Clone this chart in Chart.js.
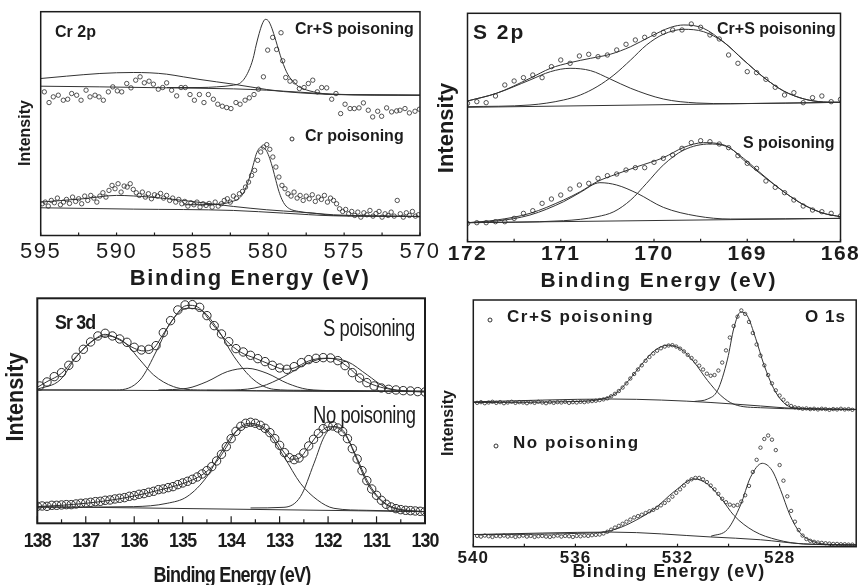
<!DOCTYPE html>
<html>
<head>
<meta charset="utf-8">
<script src="https://cdn.jsdelivr.net/npm/chart.js@4.4.0/dist/chart.umd.min.js"></script>
<style>
  html, body { margin: 0; padding: 0; background: #fff; }
  #wrap { position: relative; width: 861px; height: 585px; overflow: hidden; background: #fff; }
  #wrap canvas { position: absolute; left: 0; top: 0; }
</style>
</head>
<body>
<div id="wrap">
  <canvas id="cr" width="861" height="585"></canvas>
  <canvas id="s" width="861" height="585"></canvas>
  <canvas id="sr" width="861" height="585"></canvas>
  <canvas id="o" width="861" height="585"></canvas>
</div>
<script>
// ---------- Cr 2p (binding energy eV, intensity a.u.) ----------
const CR_TICKS = [595, 590, 585, 580, 575, 570];
const CR_MARKS = [595, 592.5, 590, 587.5, 585, 582.5, 580, 577.5, 575, 572.5, 570];

const CRS_POINTS = [[594.76,430],[594.45,398],[594.17,415],[593.84,420],[593.51,405],[593.22,408],[592.96,425],[592.63,420],[592.34,405],[592.01,435],[591.75,415],[591.42,420],[591.16,415],[590.87,405],[590.54,430],[590.25,445],[589.95,433],[589.66,430],[589.33,455],[589.05,442],[588.74,465],[588.45,475],[588.17,457],[587.86,462],[587.57,453],[587.25,438],[586.96,443],[586.70,457],[586.37,435],[586.04,418],[585.75,443],[585.47,443],[585.16,422],[584.87,405],[584.54,422],[584.24,398],[583.95,422],[583.62,408],[583.33,393],[583.03,387],[582.74,383],[582.46,380],[582.13,398],[581.86,393],[581.53,405],[581.25,412],[580.94,422],[580.65,438],[580.32,475],[580.04,555],[579.71,593],[579.45,557],[579.16,607],[579.05,523],[578.85,473],[578.57,462],[578.24,460],[577.95,440],[577.64,443],[577.36,455],[577.07,465],[576.77,430],[576.48,443],[576.15,442],[575.82,408],[575.54,425],[575.23,365],[574.94,393],[574.61,380],[574.33,380],[574.02,382],[573.73,397],[573.41,375],[573.12,355],[572.79,372],[572.53,357],[572.20,382],[571.87,370],[571.54,373],[571.32,375],[570.99,380],[570.70,367],[570.33,372],[570.04,378]];
const CRS_BASE = [[595,447],[591.1,445],[586.7,442],[582.3,439],[580.1,435],[577.9,429],[575.7,423],[570,420]];
const CRS_BROAD = [[595,470],[593.3,477],[591.1,485],[588.9,488],[587.8,487],[586.7,483],[585.6,475],[584.5,467],[583.4,460],[582.3,453],[581.2,445],[580.1,437],[579.0,431],[577.9,427],[576.8,424],[575.7,422],[573.5,421],[570,420]];
const CRS_PEAK = [[586.7,443],[584.5,443],[583.4,445],[582.3,450],[581.9,455],[581.6,468],[581.3,492],[581.0,530],[580.8,570],[580.6,605],[580.4,633],[580.2,647],[580.0,643],[579.8,625],[579.6,598],[579.4,568],[579.2,538],[579.0,512],[578.8,490],[578.6,474],[578.3,458],[578.0,446],[577.5,436],[577.0,430],[576.0,423],[570,420]];

const CR_POINTS = [[594.9,95],[594.7,100],[594.5,88],[594.3,105],[594.1,98],[593.9,112],[593.7,92],[593.5,100],[593.3,108],[593.1,96],[592.9,115],[592.7,102],[592.5,110],[592.3,95],[592.1,118],[591.9,105],[591.7,120],[591.5,112],[591.3,100],[591.1,118],[590.9,128],[590.7,115],[590.5,135],[590.3,150],[590.1,140],[589.9,155],[589.7,130],[589.5,148],[589.3,145],[589.1,155],[588.9,138],[588.7,128],[588.5,120],[588.3,130],[588.1,115],[587.9,125],[587.7,110],[587.5,122],[587.3,118],[587.1,126],[586.9,112],[586.7,120],[586.5,105],[586.3,112],[586.1,100],[585.9,108],[585.7,95],[585.5,102],[585.3,88],[585.1,98],[584.9,92],[584.7,100],[584.5,85],[584.3,95],[584.1,90],[583.9,96],[583.7,85],[583.5,100],[583.3,88],[583.1,95],[582.9,105],[582.7,110],[582.5,100],[582.3,118],[582.1,112],[581.9,125],[581.7,132],[581.5,145],[581.3,160],[581.1,180],[580.9,195],[580.7,225],[580.5,250],[580.3,265],[580.1,272],[579.9,258],[579.7,235],[579.5,205],[579.3,175],[579.1,150],[578.9,140],[578.7,125],[578.5,118],[578.3,130],[578.1,112],[577.9,120],[577.7,105],[577.5,118],[577.3,110],[577.1,122],[576.9,102],[576.7,115],[576.5,108],[576.3,120],[576.1,100],[575.9,112],[575.7,105],[575.5,95],[575.3,80],[575.1,72],[574.9,78],[574.7,65],[574.5,72],[574.3,60],[574.1,70],[573.9,55],[573.7,68],[573.5,62],[573.3,75],[573.1,58],[572.9,66],[572.7,72],[572.5,55],[572.3,65],[572.1,60],[571.9,70],[571.7,58],[571.5,105],[571.3,65],[571.1,55],[570.9,68],[570.7,60],[570.5,72],[570.3,58],[570.1,62]];
const CR_BASE = [[595,83],[588.9,79],[582.3,75],[579,67],[575.7,59],[570,57]];
const CR_BROAD = [[595,100],[592.2,110],[590,120],[587.8,115],[585.6,105],[583.4,93],[582.3,87],[580.1,77],[577.9,70],[575.7,62],[570,57]];
const CR_PEAK = [[585.6,92],[583.4,93],[582.3,103],[581.9,112],[581.6,130],[581.3,165],[581.0,210],[580.8,243],[580.6,261],[580.45,265],[580.3,263],[580.1,252],[579.9,230],[579.7,200],[579.5,165],[579.3,132],[579.1,108],[578.9,92],[578.6,80],[578.0,72],[576.8,66],[575.7,60],[570,57]];

// ---------- S 2p ----------
const S_TICKS = [172, 171, 170, 169, 168];
const S_MARKS = [172, 171.5, 171, 170.5, 170, 169.5, 169, 168.5, 168];

const SCRS_POINTS = [[172.0,415],[171.9,420],[171.8,417],[171.7,437],[171.6,470],[171.5,482],[171.4,492],[171.3,500],[171.2,492],[171.1,525],[171.0,545],[170.9,535],[170.8,557],[170.7,562],[170.6,555],[170.5,560],[170.4,575],[170.3,592],[170.2,605],[170.1,613],[170.0,622],[169.9,628],[169.8,635],[169.7,635],[169.6,653],[169.5,643],[169.4,620],[169.3,608],[169.2,560],[169.1,535],[169.0,510],[168.9,507],[168.8,487],[168.7,463],[168.6,440],[168.5,447],[168.4,417],[168.3,432],[168.2,437],[168.1,420],[168.0,427]];
const SCRS_BASE = [[172,403],[168,418]];
const SCRS_C1 = [[172.0,422],[171.69,445],[171.33,485],[171.11,510],[170.90,520],[170.68,513],[170.47,488],[170.25,460],[169.90,428],[169.54,416],[169.18,414],[168.0,418]];
const SCRS_C2 = [[172,405],[171.33,410],[170.97,425],[170.79,440],[170.61,465],[170.43,500],[170.25,545],[170.08,590],[169.90,622],[169.68,637],[169.47,630],[169.25,598],[169.04,545],[168.82,492],[168.61,452],[168.39,428],[168.18,419],[168.0,418]];
const SCRS_ENV = [[172.0,422],[171.69,445],[171.33,490],[171.11,520],[170.90,537],[170.68,550],[170.47,562],[170.25,585],[170.04,615],[169.82,643],[169.68,650],[169.47,640],[169.25,598],[169.04,545],[168.82,492],[168.61,452],[168.39,428],[168.18,419],[168.0,418]];

const SS_POINTS = [[172.0,55],[171.9,57],[171.8,57],[171.7,60],[171.6,60],[171.5,70],[171.4,85],[171.3,93],[171.2,115],[171.1,128],[171.0,140],[170.9,158],[170.8,170],[170.7,175],[170.6,190],[170.5,198],[170.4,203],[170.3,215],[170.2,222],[170.1,222],[170.0,238],[169.9,250],[169.8,260],[169.7,280],[169.6,297],[169.5,303],[169.4,300],[169.3,293],[169.2,282],[169.1,258],[169.0,235],[168.9,220],[168.8,182],[168.7,163],[168.6,147],[168.5,125],[168.4,107],[168.3,95],[168.2,90],[168.1,85],[168.0,77]];
const SS_BASE = [[172,57],[168,70]];
const SS_C1 = [[172,57],[171.69,62],[171.33,80],[170.97,120],[170.79,148],[170.58,177],[170.40,170],[170.18,145],[169.90,103],[169.54,77],[169.18,68],[168,70]];
const SS_C2 = [[172,57],[170.97,63],[170.61,75],[170.43,90],[170.25,125],[170.08,175],[169.90,230],[169.68,275],[169.40,293],[169.18,280],[169.04,245],[168.82,195],[168.61,150],[168.39,110],[168.18,85],[168,75]];
const SS_ENV = [[172,57],[171.69,65],[171.33,85],[170.97,125],[170.79,150],[170.61,180],[170.40,203],[170.18,225],[169.90,252],[169.68,283],[169.47,297],[169.25,290],[169.04,250],[168.82,197],[168.61,150],[168.39,110],[168.18,85],[168,75]];

// ---------- Sr 3d ----------
const SR_TICKS = [138, 137, 136, 135, 134, 133, 132, 131, 130];
const SR_MINOR = [137.5, 136.5, 135.5, 134.5, 133.5, 132.5, 131.5, 130.5];

const SRS_POINTS = [[137.95,412],[137.8,424],[137.65,440],[137.5,452],[137.35,474],[137.2,498],[137.05,522],[136.9,544],[136.75,562],[136.6,570],[136.45,562],[136.3,553],[136.15,543],[136.0,528],[135.85,520],[135.7,522],[135.55,533],[135.4,572],[135.25,608],[135.1,640],[134.95,655],[134.8,656],[134.65,648],[134.5,623],[134.35,593],[134.2,568],[134.05,545],[133.9,524],[133.75,514],[133.6,504],[133.45,494],[133.3,485],[133.15,474],[133.0,466],[132.85,462],[132.7,470],[132.55,482],[132.4,491],[132.25,495],[132.1,497],[131.95,496],[131.8,488],[131.65,473],[131.5,452],[131.35,436],[131.2,422],[131.05,412],[130.9,406],[130.75,402],[130.6,400],[130.45,398],[130.3,397],[130.15,395],[130.0,394]];
const SRS_BASE = [[138,400],[130,395]];
const SRS_C1 = [[138,402],[137.53,430],[137.19,500],[136.84,550],[136.57,562],[136.22,545],[135.88,490],[135.6,445],[135.19,410],[134.63,400],[130,396]];
const SRS_C2 = [[138,400],[136.36,400],[135.88,430],[135.53,520],[135.26,600],[134.91,645],[134.63,640],[134.29,585],[133.94,500],[133.53,430],[133.12,402],[132.57,399],[130,396]];
const SRS_C3 = [[135.5,400],[134.91,405],[134.5,425],[134.08,455],[133.67,465],[133.26,450],[132.84,420],[132.43,402],[131.88,398],[130,396]];
const SRS_C4 = [[134.5,399],[133.94,400],[133.39,410],[132.91,440],[132.43,480],[132.01,495],[131.6,485],[131.19,445],[130.84,410],[130.5,397],[130,395]];
const SRS_ENV = [[138,408],[137.8,425],[137.5,450],[137.2,500],[136.9,542],[136.6,567],[136.3,550],[136.0,525],[135.8,517],[135.6,525],[135.4,568],[135.2,612],[135.0,648],[134.85,654],[134.65,645],[134.4,600],[134.1,548],[133.8,513],[133.5,495],[133.2,477],[132.9,462],[132.7,466],[132.4,487],[132.1,495],[131.9,494],[131.6,470],[131.3,432],[131.0,412],[130.7,402],[130.3,396],[130,394]];

const SRN_POINTS = [[138.0,51],[137.9,52],[137.8,51],[137.7,54],[137.6,54],[137.5,55],[137.4,56],[137.3,56],[137.2,58],[137.1,60],[137.0,61],[136.9,63],[136.8,65],[136.7,66],[136.6,69],[136.5,70],[136.4,73],[136.3,75],[136.2,77],[136.1,81],[136.0,83],[135.9,87],[135.8,89],[135.7,93],[135.6,96],[135.5,101],[135.4,103],[135.3,107],[135.2,110],[135.1,116],[135.0,121],[134.9,126],[134.8,132],[134.7,139],[134.6,148],[134.5,158],[134.4,170],[134.3,187],[134.2,207],[134.1,230],[134.0,254],[133.9,276],[133.8,291],[133.7,300],[133.6,303],[133.5,300],[133.4,294],[133.3,285],[133.2,272],[133.1,254],[133.0,234],[132.9,212],[132.8,197],[132.7,191],[132.6,196],[132.5,211],[132.4,232],[132.3,252],[132.2,270],[132.1,284],[132.0,291],[131.9,292],[131.8,286],[131.7,275],[131.6,254],[131.5,224],[131.4,193],[131.3,158],[131.2,128],[131.1,103],[131.0,84],[130.9,69],[130.8,57],[130.7,49],[130.6,44],[130.5,41],[130.4,39],[130.3,38],[130.2,37],[130.1,36],[130.0,35]];
const SRN_BASE = [[138,50],[130,35]];
const SRN_C1 = [[138,48],[136.01,50],[135.32,60],[134.91,80],[134.5,140],[134.22,210],[133.94,270],[133.6,295],[133.26,275],[132.91,200],[132.57,120],[132.22,70],[131.88,45],[131.2,39],[130,35]];
const SRN_C2 = [[133.6,46],[132.91,48],[132.57,80],[132.29,180],[132.08,260],[131.88,290],[131.67,275],[131.46,210],[131.19,120],[130.84,60],[130.5,40],[130,35]];
const SRN_ENV = [[138,50],[137.5,54],[137,60],[136.5,69],[136,82],[135.5,99],[135,119],[134.7,137],[134.5,156],[134.3,185],[134.1,228],[133.9,275],[133.75,295],[133.6,300],[133.45,296],[133.3,285],[133.1,255],[132.9,211],[132.75,192],[132.6,195],[132.4,230],[132.2,268],[132.0,289],[131.9,290],[131.75,281],[131.6,255],[131.4,195],[131.2,130],[131.0,85],[130.8,58],[130.6,45],[130.3,38],[130,35]];

// ---------- O 1s ----------
const O_TICKS = [540, 536, 532, 528];
const O_MARKS = [540, 538, 536, 534, 532, 530, 528, 526];

const OCRS_POINTS = [[539.85,414],[539.7,416],[539.55,413],[539.4,415],[539.25,417],[539.1,414],[538.95,416],[538.8,413],[538.65,415],[538.5,417],[538.35,414],[538.2,416],[538.05,415],[537.9,413],[537.75,416],[537.6,414],[537.45,417],[537.3,415],[537.15,413],[537.0,416],[536.85,414],[536.7,416],[536.55,415],[536.4,417],[536.25,414],[536.1,416],[535.95,415],[535.8,417],[535.65,416],[535.5,418],[535.35,419],[535.2,420],[535.05,422],[534.9,424],[534.75,427],[534.6,433],[534.45,440],[534.3,448],[534.15,458],[534.0,470],[533.85,484],[533.7,497],[533.55,510],[533.4,522],[533.25,535],[533.1,546],[532.95,556],[532.8,564],[532.65,571],[532.5,576],[532.35,579],[532.2,580],[532.05,576],[531.9,570],[531.75,562],[531.6,552],[531.45,543],[531.3,533],[531.15,521],[531.0,510],[530.85,498],[530.7,492],[530.55,494],[530.4,507],[530.25,530],[530.1,565],[529.95,602],[529.8,635],[529.65,662],[529.5,680],[529.35,670],[529.2,647],[529.05,615],[528.9,582],[528.75,550],[528.6,522],[528.45,494],[528.3,470],[528.15,450],[528.0,435],[527.85,423],[527.7,412],[527.55,405],[527.4,401],[527.25,399],[527.1,397],[526.95,398],[526.8,396],[526.65,397],[526.5,395],[526.35,397],[526.2,396],[526.05,394],[525.9,396],[525.75,395],[525.6,397],[525.45,395],[525.3,396],[525.15,394]];
const OCRS_BASE = [[540,417],[534.57,425],[532.63,422],[530.69,415],[528.75,405],[527.46,398],[525,395]];
const OCRS_C1 = [[540,415],[535.86,418],[534.96,425],[534.44,440],[533.92,478],[533.4,525],[532.89,565],[532.37,580],[531.85,568],[531.34,530],[530.82,478],[530.3,435],[529.79,410],[528.75,400],[525,395]];
const OCRS_C2 = [[531.34,418],[530.82,425],[530.43,450],[530.04,540],[529.79,630],[529.53,675],[529.27,665],[528.94,600],[528.62,525],[528.23,455],[527.85,415],[527.46,400],[525,395]];

const ON_POINTS = [[539.85,31],[539.7,29],[539.55,32],[539.4,30],[539.25,28],[539.1,31],[538.95,30],[538.8,32],[538.65,29],[538.5,31],[538.35,28],[538.2,30],[538.05,32],[537.9,29],[537.75,31],[537.6,28],[537.45,30],[537.3,31],[537.15,29],[537.0,28],[536.85,30],[536.7,32],[536.55,29],[536.4,31],[536.25,30],[536.1,28],[535.95,31],[535.8,30],[535.65,32],[535.5,31],[535.35,33],[535.2,34],[535.05,35],[534.9,38],[534.75,43],[534.6,49],[534.45,55],[534.3,60],[534.15,66],[534.0,72],[533.85,78],[533.7,84],[533.55,88],[533.4,92],[533.25,97],[533.1,102],[532.95,106],[532.8,112],[532.65,119],[532.5,126],[532.35,134],[532.2,144],[532.05,155],[531.9,165],[531.75,176],[531.6,187],[531.45,194],[531.3,198],[531.15,198],[531.0,194],[530.85,186],[530.7,176],[530.55,165],[530.4,152],[530.25,138],[530.1,128],[529.95,121],[529.8,118],[529.65,120],[529.5,130],[529.35,148],[529.2,175],[529.05,215],[528.9,250],[528.75,285],[528.6,310],[528.45,320],[528.3,308],[528.15,278],[528.0,235],[527.85,190],[527.7,145],[527.55,103],[527.4,72],[527.25,48],[527.1,32],[526.95,22],[526.8,17],[526.65,14],[526.5,12],[526.35,11],[526.2,10],[526.05,9],[525.9,8],[525.75,8],[525.6,7],[525.45,7],[525.3,6],[525.15,6]];
const ON_BASE = [[540,35],[534.57,42],[530.69,28],[528.75,20],[527.07,8],[525,5]];
const ON_C1 = [[540,35],[535.22,40],[534.44,50],[533.66,75],[532.89,110],[532.11,160],[531.34,195],[530.82,180],[530.3,140],[529.79,90],[529.01,45],[528.1,20],[527.07,8],[525,5]];
const ON_C2 = [[530.69,30],[530.04,50],[529.53,120],[529.14,200],[528.68,240],[528.3,220],[527.97,165],[527.59,90],[527.2,40],[526.68,15],[526.16,7],[525,5]];

// ---------- drawing helpers ----------
const SANS = "'Liberation Sans', Arial, Helvetica, sans-serif";
const INK = '#1c1c1c';

function pts(a) { return a.map(([x, y]) => ({ x, y })); }

function dots(a, r, bw) {
  return { data: pts(a), showLine: false, pointRadius: r, pointBorderWidth: bw,
           pointStyle: 'circle', borderColor: '#2a2a2a', backgroundColor: 'rgba(0,0,0,0)' };
}
function curve(a, w) {
  return { data: pts(a), showLine: true, pointRadius: 0, borderWidth: w || 1,
           borderColor: '#333', cubicInterpolationMode: 'monotone', fill: false };
}

function drawText(ctx, s, x, y, o) {
  ctx.save();
  ctx.font = o.font;
  ctx.fillStyle = INK;
  ctx.textAlign = o.align || 'left';
  ctx.textBaseline = 'middle';
  ctx.letterSpacing = (o.ls || 0) + 'px';
  ctx.translate(x, y);
  if (o.rot) ctx.rotate(o.rot);
  ctx.scale(o.sx || 1, 1);
  ctx.fillText(s, 0, 0);
  ctx.restore();
}

// frame, inward tick marks, tick labels, titles and notes, all placed through the chart's x scale
function makeDecor(cfg) {
  return {
    id: 'decor',
    afterDraw(chart) {
      const { ctx, chartArea: a } = chart;
      const x = chart.scales.x;
      ctx.save();
      ctx.strokeStyle = INK;
      ctx.lineWidth = cfg.frame;
      ctx.strokeRect(a.left, a.top, a.right - a.left, a.bottom - a.top);
      ctx.lineWidth = 1.2;
      cfg.marks.forEach(m => {
        const px = x.getPixelForValue(m.v);
        ctx.beginPath();
        ctx.moveTo(px, a.bottom);
        ctx.lineTo(px, a.bottom - m.len);
        ctx.stroke();
      });
      cfg.ticks.values.forEach(v => {
        drawText(ctx, String(v), x.getPixelForValue(v), cfg.ticks.y,
                 Object.assign({ align: 'center' }, cfg.ticks.style));
      });
      cfg.texts.forEach(t => {
        drawText(ctx, t.s, t.x, t.y, t);
        if (t.marker) {
          ctx.beginPath();
          ctx.lineWidth = 0.9;
          ctx.arc(t.marker[0], t.marker[1], t.marker[2], 0, Math.PI * 2);
          ctx.stroke();
        }
      });
      ctx.restore();
    }
  };
}

function makeChart(id, box, xr, ymax, datasets, cfg) {
  return new Chart(document.getElementById(id), {
    type: 'scatter',
    data: { datasets },
    options: {
      responsive: false, animation: false, devicePixelRatio: 1, events: [],
      layout: { padding: { left: box[0], top: box[1], right: 861 - box[2], bottom: 585 - box[3] } },
      plugins: { legend: { display: false }, tooltip: { enabled: false } },
      scales: {
        x: { type: 'linear', display: false, min: xr[1], max: xr[0], reverse: true },
        y: { type: 'linear', display: false, min: 0, max: ymax }
      }
    },
    plugins: [makeDecor(cfg)]
  });
}

const ROT = -Math.PI / 2;

// Cr 2p
makeChart('cr', [40.7, 11.7, 420, 235.5], [595, 570], 670, [
  dots(CRS_POINTS, 2.2, 0.8), curve(CRS_BASE), curve(CRS_BROAD), curve(CRS_PEAK),
  dots(CR_POINTS, 2.2, 0.8), curve(CR_BASE), curve(CR_BROAD), curve(CR_PEAK)
], {
  frame: 1.5,
  marks: CR_MARKS.map(v => ({ v, len: 3 })),
  ticks: { values: CR_TICKS, y: 252, style: { font: `22px ${SANS}`, ls: 1.5 } },
  texts: [
    { s: 'Binding Energy (eV)', x: 250, y: 279, align: 'center', font: `bold 22px ${SANS}`, ls: 1.6 },
    { s: 'Intensity', x: 26, y: 133, align: 'center', rot: ROT, font: `bold 16px ${SANS}` },
    { s: 'Cr 2p', x: 55, y: 33, font: `bold 16px ${SANS}` },
    { s: 'Cr+S poisoning', x: 295, y: 30, font: `bold 16px ${SANS}` },
    { s: 'Cr poisoning', x: 305, y: 137, font: `bold 16px ${SANS}`, marker: [292, 139, 2] }
  ]
});

// S 2p
makeChart('s', [467.5, 13.3, 840.5, 241.7], [172, 168], 685, [
  dots(SCRS_POINTS, 2.2, 0.8), curve(SCRS_BASE), curve(SCRS_C1), curve(SCRS_C2), curve(SCRS_ENV),
  dots(SS_POINTS, 2.2, 0.8), curve(SS_BASE), curve(SS_C1), curve(SS_C2), curve(SS_ENV)
], {
  frame: 1.5,
  marks: S_MARKS.map(v => ({ v, len: 3 })),
  ticks: { values: S_TICKS, y: 254, style: { font: `bold 21px ${SANS}`, ls: 1.5 } },
  texts: [
    { s: 'Binding Energy (eV)', x: 659, y: 281, align: 'center', font: `bold 21px ${SANS}`, ls: 1.9 },
    { s: 'Intensity', x: 447, y: 128, align: 'center', rot: ROT, font: `bold 22px ${SANS}` },
    { s: 'S 2p', x: 473, y: 33, font: `bold 21px ${SANS}`, ls: 2 },
    { s: 'Cr+S poisoning', x: 717, y: 30, font: `bold 16px ${SANS}` },
    { s: 'S poisoning', x: 743, y: 144, font: `bold 16px ${SANS}` }
  ]
});

// Sr 3d
makeChart('sr', [37.3, 298.3, 425, 523.3], [138, 130], 675, [
  dots(SRS_POINTS, 4.2, 1), curve(SRS_BASE), curve(SRS_C1), curve(SRS_C2), curve(SRS_C3), curve(SRS_C4), curve(SRS_ENV),
  dots(SRN_POINTS, 4.2, 1), curve(SRN_BASE), curve(SRN_C1), curve(SRN_C2), curve(SRN_ENV)
], {
  frame: 2,
  marks: SR_TICKS.map(v => ({ v, len: 7 })).concat(SR_MINOR.map(v => ({ v, len: 4 }))),
  ticks: { values: SR_TICKS, y: 541, style: { font: `bold 21px ${SANS}`, sx: 0.85, ls: -1 } },
  texts: [
    { s: 'Binding Energy (eV)', x: 232, y: 576, align: 'center', font: `bold 22px ${SANS}`, sx: 0.82, ls: -1 },
    { s: 'Intensity', x: 16, y: 397, align: 'center', rot: ROT, font: `bold 24px ${SANS}`, sx: 0.9 },
    { s: 'Sr 3d', x: 55, y: 323, font: `bold 21px ${SANS}`, sx: 0.85, ls: -1 },
    { s: 'S poisoning', x: 323, y: 330, font: `23px ${SANS}`, sx: 0.8, ls: -0.5 },
    { s: 'No poisoning', x: 313, y: 417, font: `23px ${SANS}`, sx: 0.8, ls: -0.5 }
  ]
});

// O 1s
makeChart('o', [473.3, 300, 859, 546.7], [540, 525], 710, [
  dots(OCRS_POINTS, 1.7, 0.8), curve(OCRS_BASE), curve(OCRS_C1), curve(OCRS_C2),
  dots(ON_POINTS, 1.7, 0.8), curve(ON_BASE), curve(ON_C1), curve(ON_C2)
], {
  frame: 1.5,
  marks: O_MARKS.map(v => ({ v, len: 3 })),
  ticks: { values: O_TICKS, y: 558, style: { font: `bold 17px ${SANS}`, ls: 1 } },
  texts: [
    { s: 'Binding Energy (eV)', x: 669, y: 572, align: 'center', font: `bold 18px ${SANS}`, ls: 1.1 },
    { s: 'Intensity', x: 449, y: 423, align: 'center', rot: ROT, font: `bold 16px ${SANS}` },
    { s: 'Cr+S poisoning', x: 507, y: 317, font: `bold 17px ${SANS}`, ls: 1.5, marker: [490, 320, 2] },
    { s: 'O 1s', x: 805, y: 317, font: `bold 17px ${SANS}`, ls: 1 },
    { s: 'No poisoning', x: 513, y: 443, font: `bold 17px ${SANS}`, ls: 1.5, marker: [496, 446, 2] }
  ]
});
</script>
</body>
</html>
